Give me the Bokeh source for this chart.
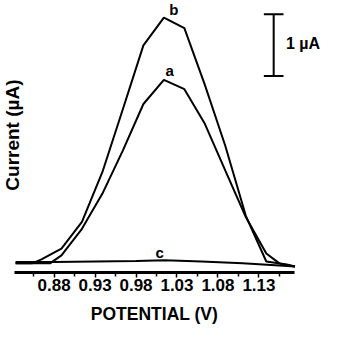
from bokeh.plotting import figure
from bokeh.models import FixedTicker, Label, Range1d
from bokeh.embed import file_html
from bokeh.resources import INLINE

# Potential (V) / current (uA) values
b_x = [0.833, 0.853, 0.864, 0.889, 0.914, 0.939, 0.964, 0.989, 1.014, 1.039, 1.064, 1.089, 1.114, 1.139, 1.164, 1.174]
b_y = [0.00, 0.00, 0.06, 0.24, 0.67, 1.48, 2.50, 3.53, 3.98, 3.81, 2.89, 1.90, 0.77, 0.03, -0.02, -0.05]

a_x = [0.833, 0.875, 0.889, 0.914, 0.939, 0.964, 0.989, 1.014, 1.039, 1.064, 1.089, 1.114, 1.139, 1.155, 1.164, 1.174]
a_y = [0.00, 0.00, 0.13, 0.56, 1.13, 1.83, 2.58, 2.97, 2.82, 2.26, 1.50, 0.75, 0.16, 0.00, -0.03, -0.05]

c_x = [0.833, 0.88, 0.93, 0.98, 1.015, 1.06, 1.11, 1.15, 1.174]
c_y = [0.02, 0.02, 0.03, 0.04, 0.05, 0.03, 0.00, -0.03, -0.05]

major_ticks = [0.88, 0.93, 0.98, 1.03, 1.08, 1.13]
minor_ticks = [0.855, 0.905, 0.955, 1.005, 1.055, 1.105, 1.155]
axis_bounds = (0.8313, 1.1738)
axis_y = -0.1435  # where the potential axis sits (uA)

# scale bar (1 uA)
bar_x = 1.148
bar_bottom = 3.035
bar_len = 1.0
cap_half = 0.012

FONT = "Liberation Sans"

p = figure(width=323, height=324, output_backend="svg", toolbar_location=None,
           x_range=Range1d(0.8146, 1.2088), y_range=Range1d(-0.990, 4.256),
           y_axis_location=None,
           min_border_left=0, min_border_right=0, min_border_top=0, min_border_bottom=0)
p.outline_line_color = None
p.xgrid.visible = False
p.ygrid.visible = False
p.background_fill_color = "white"
p.border_fill_color = "white"

for xs, ys in [(c_x, c_y), (a_x, a_y), (b_x, b_y)]:
    p.line(xs, ys, line_color="black", line_width=2)

ax = p.xaxis[0]
ax.fixed_location = axis_y
ax.bounds = axis_bounds
ax.ticker = FixedTicker(ticks=major_ticks, minor_ticks=minor_ticks)
ax.axis_line_width = 3
ax.axis_line_color = "black"
ax.major_tick_in = 0
ax.major_tick_out = 5
ax.minor_tick_in = 0
ax.minor_tick_out = 4
ax.major_tick_line_width = 1.5
ax.minor_tick_line_width = 1.5
ax.major_label_text_font = FONT
ax.major_label_text_font_style = "bold"
ax.major_label_text_font_size = "17px"
ax.major_label_text_color = "black"
ax.major_label_standoff = 2

# axis title
p.add_layout(Label(x=sum(axis_bounds) / 2, y=-0.813, text="POTENTIAL (V)",
                   text_font=FONT, text_font_style="bold", text_font_size="17.5px",
                   text_align="center", text_baseline="middle", text_color="black"))

# scale bar
p.segment(x0=[bar_x, bar_x - cap_half, bar_x - cap_half],
          y0=[bar_bottom, bar_bottom, bar_bottom + bar_len],
          x1=[bar_x, bar_x + cap_half, bar_x + cap_half],
          y1=[bar_bottom + bar_len, bar_bottom, bar_bottom + bar_len],
          line_color="black", line_width=2)
p.add_layout(Label(x=bar_x + 0.015, y=3.557, text="1 µA",
                   text_font=FONT, text_font_style="bold", text_font_size="16px",
                   text_baseline="middle", text_align="left", text_color="black"))

for t, x, y in [("b", 1.026, 4.115), ("a", 1.021, 3.126), ("c", 1.009, 0.175)]:
    p.add_layout(Label(x=x, y=y, text=t, text_font=FONT, text_font_style="bold",
                       text_font_size="15px", text_align="center", text_baseline="middle",
                       text_color="black"))

p.add_layout(Label(x=0.829, y=2.077, text="Current (µA)", angle=1.5708,
                   text_font=FONT, text_font_style="bold", text_font_size="19px",
                   text_align="center", text_baseline="middle", text_color="black"))

open("out.html", "w").write(file_html(p, INLINE))
